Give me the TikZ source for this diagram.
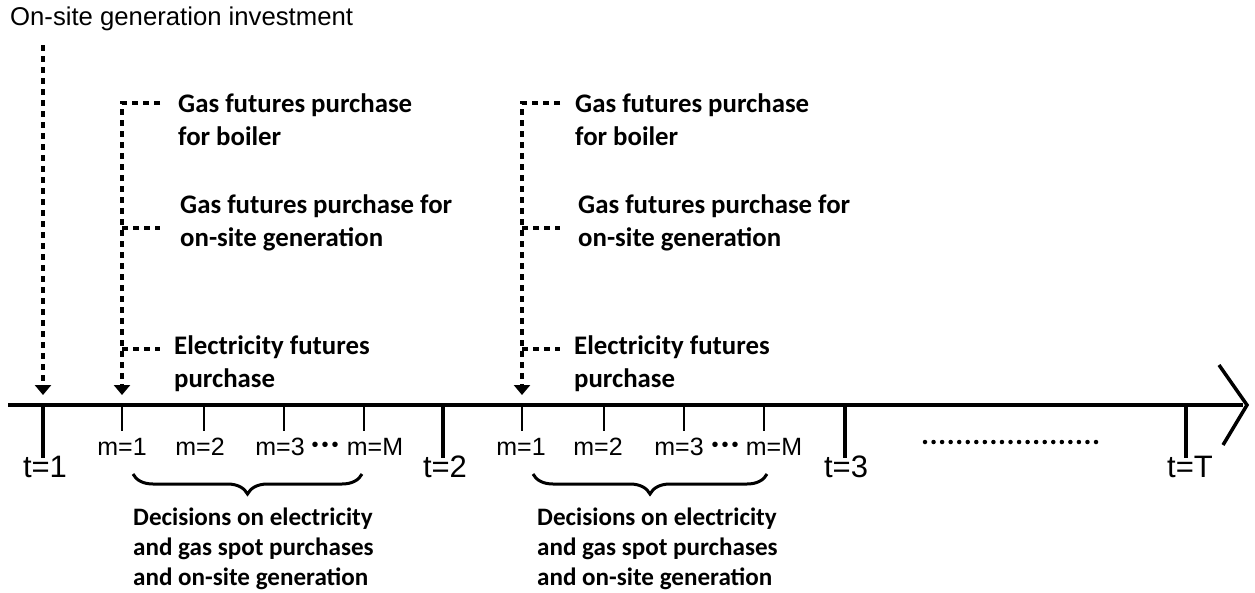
\documentclass[tikz,border=0pt]{standalone}
\usepackage{fontspec}
\setmainfont{Liberation Sans}
\newfontfamily\calfont{Carlito}
\usepackage{tikz}
\usetikzlibrary{calc,positioning,arrows.meta,decorations.pathreplacing}
\tikzstyle{axis}      = [line width=4pt]
\tikzstyle{ttick}     = [line width=4pt]
\tikzstyle{mtick}     = [line width=1.8pt]
\tikzstyle{futdash}   = [line width=3.5pt, dash pattern=on 6pt off 5pt]
\tikzstyle{futarrow}  = [futdash, shorten >=10pt, -{Triangle[width=16pt,length=10pt]}]
\tikzstyle{plain}     = [font=\fontsize{25}{30}\selectfont, inner sep=0pt]
\tikzstyle{dots}      = [font=\fontsize{20}{20}\selectfont, inner sep=0pt]
\tikzstyle{tlabel}    = [font=\fontsize{31}{36}\selectfont, inner sep=0pt]
\tikzstyle{info}      = [font=\calfont\bfseries\fontsize{26.8}{33}\selectfont, align=left, anchor=west, inner sep=0pt]
\tikzstyle{decision}  = [font=\calfont\bfseries\fontsize{25.1}{30}\selectfont, align=left, anchor=west, inner sep=0pt]
\tikzstyle{curly}     = [line width=3pt, decorate, decoration={brace, mirror, amplitude=20pt}]

\begin{document}
\begin{tikzpicture}[x=1pt,y=-1pt]
		\useasboundingbox (0,0) rectangle (1255,592);

		% time axis
		\coordinate (start) at (8,405);
		\coordinate (end) at (1247,405);
		\draw[axis] (start) -- ([xshift=-4pt]end);
		\draw[axis, line width=3.5pt] ($(end)+(-28,-40)$) -- (end) -- ($(end)+(-24,40)$);

		% periods t
		\coordinate (p1) at (43,405);
		\coordinate (p2) at (443,405);
		\coordinate (p3) at (845,405);
		\coordinate (pT) at (1186,405);
		\draw[ttick] (p1) -- ++(0,53);
		\draw[ttick] (p2) -- ++(0,53);
		\draw[ttick] (p3) -- ++(0,53);
		\draw[ttick] (pT) -- ++(0,53);
		\node[tlabel] (t1) at (45,467) {t=1};
		\node[tlabel] (t2) at (445,467) {t=2};
		\node[tlabel] (t3) at (846,467) {t=3};
		\node[tlabel] (tT) at (1190,467) {t=T};
		\coordinate (f1) at (925,442);
		\coordinate (f2) at (1096,442);
		\draw[line width=4.5pt, line cap=round, dash pattern=on 0pt off 8.55pt] (f1) -- (f2);

		% months m, first period
		\coordinate (a1) at (122,405);
		\coordinate (a2) at (204,405);
		\coordinate (a3) at (284,405);
		\coordinate (aM) at (364,405);
		\foreach \a in {a1,a2,a3,aM}
			\draw[mtick] (\a) -- ++(0,26);
		\node[plain] (ma1) at (122,447) {m=1};
		\node[plain] (ma2) at (200,447) {m=2};
		\node[plain] (ma3) at (280,447) {m=3};
		\node[plain] (maM) at (375,447) {m=M};
		\node[dots] (da) at (325,447) {•\kern3pt•\kern3pt•};

		% months m, second period
		\coordinate (b1) at (522,405);
		\coordinate (b2) at (604,405);
		\coordinate (b3) at (684,405);
		\coordinate (bM) at (764,405);
		\foreach \b in {b1,b2,b3,bM}
			\draw[mtick] (\b) -- ++(0,26);
		\node[plain] (mb1) at (521,447) {m=1};
		\node[plain] (mb2) at (598,447) {m=2};
		\node[plain] (mb3) at (679,447) {m=3};
		\node[plain] (mbM) at (774,447) {m=M};
		\node[dots] (db) at (725,447) {•\kern3pt•\kern3pt•};

		% investment
		\node[plain, anchor=west, font=\fontsize{25.7}{30}\selectfont] (inv) at (10,19) {On-site generation investment};
		\draw[futarrow, shorten <=14pt] (inv.south -| p1) -- (p1);

		% futures, first period
		\coordinate (ca1) at (122,103);
		\coordinate (ca2) at (122,228);
		\coordinate (ca3) at (122,349);
		\coordinate (ea1) at (160,103);
		\coordinate (ea2) at (160,228);
		\coordinate (ea3) at (160,349);
		\draw[futarrow] (ea1) -- (ca1) -- (a1);
		\draw[futdash] (ca2) -- (ea2);
		\draw[futdash] (ca3) -- (ea3);
		\node[info] (boila) at (178,120) {Gas futures purchase\\for boiler};
		\node[info] (gena) at (180,223) {Gas futures purchase for\\on-site generation};
		\node[info] (eleca) at (174,364) {Electricity futures\\purchase};

		% futures, second period
		\coordinate (cb1) at (522,103);
		\coordinate (cb2) at (522,228);
		\coordinate (cb3) at (522,349);
		\coordinate (eb1) at (560,103);
		\coordinate (eb2) at (560,228);
		\coordinate (eb3) at (560,349);
		\draw[futarrow] (eb1) -- (cb1) -- (b1);
		\draw[futdash] (cb2) -- (eb2);
		\draw[futdash] (cb3) -- (eb3);
		\node[info] (boilb) at (575,120) {Gas futures purchase\\for boiler};
		\node[info] (genb) at (578,223) {Gas futures purchase for\\on-site generation};
		\node[info] (elecb) at (574,364) {Electricity futures\\purchase};

		% spot decisions
		\draw[curly] (133,474) -- (362,474);
		\draw[curly] (533,474) -- (767,474);
		\node[decision] (deca) at (133,549) {Decisions on electricity\\and gas spot purchases\\and on-site generation};
		\node[decision] (decb) at (537,549) {Decisions on electricity\\and gas spot purchases\\and on-site generation};
	\end{tikzpicture}
\end{document}
